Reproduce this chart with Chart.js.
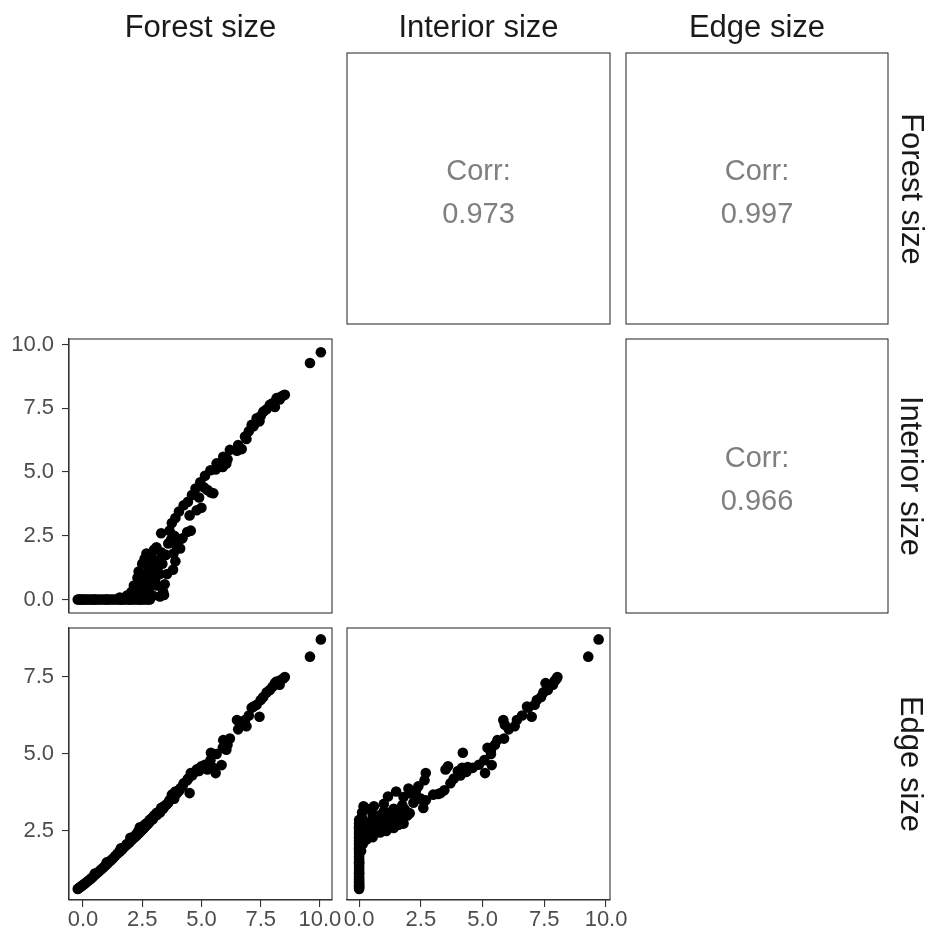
<!DOCTYPE html>
<html>
<head>
<meta charset="utf-8">
<script src="https://cdn.jsdelivr.net/npm/chart.js@4.4.1/dist/chart.umd.min.js"></script>
<style>
  html, body { margin: 0; padding: 0; background: #fff; }
  #page { position: relative; width: 930px; height: 934px; overflow: hidden; font-family: "Liberation Sans", Arial, sans-serif; }
  canvas.layer { position: absolute; left: 0; top: 0; }
  .head { position: absolute; top: 12px; height: 30px; line-height: 30px; font-size: 31px; color: #1a1a1a; text-align: center; white-space: nowrap; }
  .strip { position: absolute; height: 30px; line-height: 30px; font-size: 31px; color: #1a1a1a; text-align: center; white-space: nowrap; transform: rotate(90deg); }
</style>
</head>
<body>
<div id="page"></div>
<script>
// variables, in panel order
const varNames = ["Forest size", "Interior size", "Edge size"];

const forest = [
  -0.22, -0.17, -0.12, -0.06, 0.00, 0.06, 0.12, 0.20, 0.28, 0.36,
  0.45, 0.55, 0.65, 0.75, 0.85, 0.95, 1.05, 1.15, 1.25, 1.35,
  1.45, 1.55, 1.65, 1.75, 1.85, 1.95, 2.05, 2.15, 2.25, 2.35,
  2.45, 2.55, 2.65, 2.75, 2.82, 1.00, 1.60, 2.00, 2.40, 0.50,
  1.55, 1.85, 2.05, 2.15, 2.25, 2.30, 2.35, 2.45, 2.50, 2.55,
  2.60, 2.62, 2.70, 2.70, 2.78, 2.82, 2.88, 2.92, 2.95, 3.00,
  3.02, 3.10, 3.12, 3.20, 3.25, 3.30, 3.38, 3.42, 3.30, 3.50,
  3.60, 3.65, 3.72, 3.80, 3.82, 3.75, 3.90, 3.95, 4.05, 4.20,
  4.25, 4.40, 4.43, 4.50, 4.55, 4.60, 4.75, 4.80, 4.90, 4.95,
  5.00, 5.10, 5.15, 5.25, 5.40, 5.38, 5.50, 5.60, 5.64, 5.85,
  5.90, 5.92, 6.05, 6.10, 6.20, 6.50, 6.55, 6.70, 6.84, 6.90,
  7.00, 7.12, 7.20, 7.33, 7.45, 7.50, 7.61, 7.75, 7.89, 8.00,
  8.10, 8.17, 8.30, 8.45, 8.52, 8.35, 9.58, 10.04,
  2.10, 2.20, 2.40, 2.50, 2.60, 2.68, 2.80, 2.85, 3.05, 3.15,
  3.25, 3.35, 3.45, 3.55, 3.90, 4.10, 4.05, 3.85
];

const interior = [
  0, 0, 0, 0, 0, 0, 0, 0, 0, 0,
  0, 0, 0, 0, 0, 0, 0, 0, 0, 0,
  0, 0, 0, 0, 0, 0, 0, 0, 0, 0,
  0, 0, 0, 0, 0, 0, 0, 0, 0, 0,
  0.08, 0.15, 0.30, 0.55, 0.20, 0.85, 1.10, 0.70, 1.40, 0.45,
  1.60, 1.00, 1.50, 0.25, 1.20, 0.80, 1.75, 1.30, 0.15, 1.95,
  1.05, 2.05, 0.55, 1.55, 0.12, 1.85, 0.30, 0.18, 2.60, 1.75,
  2.20, 2.70, 2.35, 1.17, 1.80, 3.00, 3.20, 2.10, 3.45, 2.40,
  3.70, 2.65, 3.83, 3.30, 2.70, 4.10, 4.35, 3.50, 4.00, 4.60,
  3.60, 4.40, 4.85, 4.30, 4.20, 5.07, 4.17, 5.10, 5.34, 5.37,
  5.20, 5.60, 5.34, 5.50, 5.87, 5.84, 6.06, 5.90, 6.39, 6.30,
  6.60, 6.85, 6.80, 7.11, 6.99, 7.20, 7.37, 7.46, 7.64, 7.70,
  7.55, 7.90, 7.85, 8.00, 8.03, 7.95, 9.28, 9.70,
  0.10, 0.40, 0.25, 0.90, 0.60, 1.80, 0.45, 1.45, 0.80, 1.25,
  1.00, 1.40, 0.60, 1.00, 1.50, 2.00, 2.30, 2.50
];

const edge = [
  0.62, 0.65, 0.68, 0.71, 0.75, 0.78, 0.82, 0.87, 0.92, 0.97,
  1.03, 1.10, 1.17, 1.24, 1.31, 1.38, 1.45, 1.53, 1.60, 1.68,
  1.76, 1.83, 1.90, 1.98, 2.05, 2.12, 2.20, 2.27, 2.34, 2.42,
  2.50, 2.58, 2.66, 2.74, 2.86, 1.48, 1.94, 2.28, 2.62, 1.12,
  1.85, 2.08, 2.22, 2.30, 2.36, 2.45, 2.50, 2.52, 2.60, 2.58,
  2.70, 2.66, 2.76, 2.70, 2.80, 2.82, 2.90, 2.92, 2.88, 3.00,
  2.98, 3.08, 3.02, 3.12, 3.10, 3.20, 3.22, 3.30, 3.25, 3.34,
  3.42, 3.50, 3.55, 3.62, 3.60, 3.68, 3.70, 3.72, 3.82, 3.95,
  4.05, 4.15, 4.20, 3.73, 4.38, 4.30, 4.42, 4.50, 4.45, 4.55,
  4.60, 4.58, 4.65, 4.50, 5.04, 4.80, 4.55, 4.38, 5.00, 4.64,
  5.20, 5.45, 5.14, 5.30, 5.50, 6.10, 5.80, 5.95, 6.10, 5.90,
  6.25, 6.50, 6.54, 6.60, 6.21, 6.75, 6.85, 7.00, 7.08, 7.18,
  7.30, 7.35, 7.25, 7.45, 7.50, 7.40, 8.16, 8.72,
  2.28, 2.35, 2.48, 2.58, 2.64, 2.74, 2.78, 2.84, 3.00, 3.10,
  3.14, 3.22, 3.30, 3.38, 3.78, 3.88, 3.80, 3.55
];

const forestTicks = [0, 2.5, 5, 7.5, 10];
const interiorTicks = [0, 2.5, 5, 7.5, 10];
const edgeTicks = [2.5, 5, 7.5];

// upper triangle: [row, col] and the printed correlation
const corrCells = [[0, 1], [0, 2], [1, 2]];
const corrValues = ["0.973", "0.997", "0.966"];

const series = [forest, interior, edge];
const tickSets = [forestTicks, interiorTicks, edgeTicks];

// axis limits as drawn (x when used as column, y when used as row)
const xLimits = [[-0.59, 10.51], [-0.49, 10.16], [0.26, 9.09]];
const yLimits = [[-0.59, 10.51], [-0.53, 10.22], [0.26, 9.09]];

const W = 930, H = 934;
const colEdges = [[69, 332], [347, 610], [626, 888]];
const rowEdges = [[53, 324], [339, 613], [628, 900]];
const Y_AXIS_W = 60, X_AXIS_H = 34;
const FONT = '"Liberation Sans", Arial, sans-serif';
const FRAME_COLOR = "#333333";

const page = document.getElementById("page");

function addCanvas () {
    const c = document.createElement("canvas");
    c.width = W;
    c.height = H;
    c.className = "layer";
    page.appendChild(c);
    return c;
}

const frame = {
    id: "frame",
    afterDatasetsDraw (chart) {
        const {ctx, chartArea: a} = chart;
        ctx.save();
        ctx.strokeStyle = FRAME_COLOR;
        ctx.lineWidth = 1.1;
        ctx.strokeRect(a.left, a.top, a.right - a.left, a.bottom - a.top);
        ctx.restore();
    }
};

const corrText = {
    id: "corrText",
    afterDraw (chart, args, opts) {
        const {ctx, chartArea: a} = chart;
        const cx = (a.left + a.right) / 2, cy = (a.top + a.bottom) / 2;
        ctx.save();
        ctx.fillStyle = "#7f7f7f";
        ctx.font = "29px " + FONT;
        ctx.textAlign = "center";
        ctx.textBaseline = "alphabetic";
        ctx.fillText("Corr:", cx, cy - 9);
        ctx.fillText(opts.value, cx, cy + 34);
        ctx.restore();
    }
};

function axis (vi, dir, show) {
    const lim = dir === "x" ? xLimits[vi] : yLimits[vi];
    return {
        type: "linear",
        display: show,
        min: lim[0],
        max: lim[1],
        afterBuildTicks: s => { s.ticks = tickSets[vi].map(v => ({value: v})); },
        afterFit: s => {
            if (!show) return;
            if (dir === "x") s.height = X_AXIS_H;
            else s.width = Y_AXIS_W;
        },
        grid: {display: true, drawOnChartArea: false, drawTicks: true, tickLength: 7, color: FRAME_COLOR, lineWidth: 1.1},
        border: {display: true, color: FRAME_COLOR, width: 1.1},
        ticks: {
            color: "#4d4d4d",
            font: {family: FONT, size: 22},
            padding: dir === "x" ? 0 : 8,
            maxRotation: 0,
            autoSkip: false,
            callback: v => Number(v).toFixed(1)
        }
    };
}

function scatterPanel (row, col) {
    const showY = col === 0, showX = row === 2;
    const [l, r] = colEdges[col], [t, b] = rowEdges[row];
    const xs = series[col], ys = series[row];

    new Chart(addCanvas(), {
        type: "scatter",
        data: {
            datasets: [{
                data: xs.map((v, k) => ({x: v, y: ys[k]})),
                backgroundColor: "#000000",
                borderWidth: 0,
                pointRadius: 5.3,
                pointHoverRadius: 5.3
            }]
        },
        options: {
            responsive: false,
            animation: false,
            events: [],
            layout: {padding: {
                left: l - (showY ? Y_AXIS_W : 0),
                right: W - r,
                top: t,
                bottom: H - b - (showX ? X_AXIS_H : 0)
            }},
            plugins: {legend: {display: false}, tooltip: {enabled: false}},
            scales: {x: axis(col, "x", showX), y: axis(row, "y", showY)}
        },
        plugins: [frame]
    });
}

function corrPanel ([row, col], value) {
    const [l, r] = colEdges[col], [t, b] = rowEdges[row];
    new Chart(addCanvas(), {
        type: "scatter",
        data: {datasets: []},
        options: {
            responsive: false,
            animation: false,
            events: [],
            layout: {padding: {left: l, right: W - r, top: t, bottom: H - b}},
            plugins: {legend: {display: false}, tooltip: {enabled: false}, corrText: {value}},
            scales: {
                x: {display: false, min: 0, max: 1},
                y: {display: false, min: 0, max: 1}
            }
        },
        plugins: [frame, corrText]
    });
}

// lower triangle scatter plots
scatterPanel(1, 0);
scatterPanel(2, 0);
scatterPanel(2, 1);

corrCells.forEach((cell, i) => corrPanel(cell, corrValues[i]));

// column titles and row strips
varNames.forEach((name, i) => {
    const [l, r] = colEdges[i], [t, b] = rowEdges[i];

    const head = document.createElement("div");
    head.className = "head";
    head.style.left = l + "px";
    head.style.width = (r - l) + "px";
    head.textContent = name;
    page.appendChild(head);

    const strip = document.createElement("div");
    const len = b - t;
    strip.className = "strip";
    strip.style.width = len + "px";
    strip.style.left = (911 - len / 2) + "px";
    strip.style.top = ((t + b) / 2 - 15) + "px";
    strip.textContent = name;
    page.appendChild(strip);
});
</script>
</body>
</html>
